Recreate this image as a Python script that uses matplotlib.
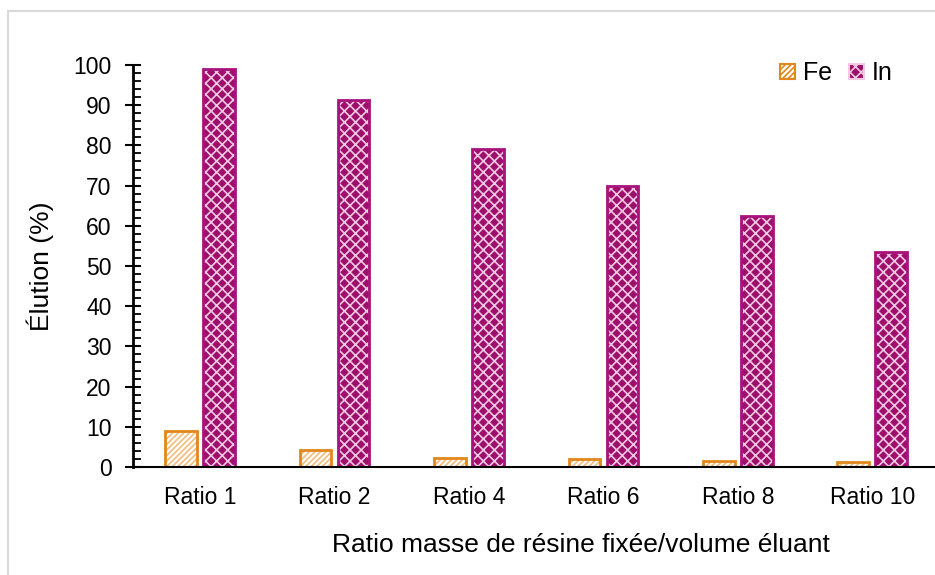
import numpy as np
import matplotlib.pyplot as plt
from matplotlib.patches import Patch, Rectangle
from matplotlib.ticker import MultipleLocator

# elution yields per mass/volume ratio
categories = ['Ratio 1', 'Ratio 2', 'Ratio 4', 'Ratio 6', 'Ratio 8', 'Ratio 10']
fe_values = [9.0, 4.3, 2.2, 2.0, 1.4, 1.2]
in_values = [98.9, 91.3, 79.2, 70.0, 62.5, 53.4]

plt.rcParams['font.family'] = ['Liberation Sans', 'DejaVu Sans']
plt.rcParams['hatch.linewidth'] = 1.2

fe_edge = '#E2871C'
fe_hatch = '#F3BC7C'
in_face = '#9E0F6C'
in_edge = '#A8127A'
in_hatch = '#F0C8E2'

fig = plt.figure(figsize=(9.35, 5.75), dpi=100)
ax = fig.add_axes([0.1422, 0.1878, 0.8625, 0.6992])

x = np.arange(len(categories))
off = 0.141
w = 0.235

# hatch layer first, then the outline on top
ax.bar(x - off, fe_values, w, facecolor='white', edgecolor=fe_hatch, hatch='//////', linewidth=0)
ax.bar(x - off, fe_values, w, facecolor='none', edgecolor=fe_edge, linewidth=2)
ax.bar(x + off, in_values, w, facecolor=in_face, edgecolor=in_hatch, hatch='xxx', linewidth=0)
ax.bar(x + off, in_values, w, facecolor='none', edgecolor=in_edge, linewidth=2)

ax.set_xlim(-0.5, len(categories) - 0.5)
ax.set_ylim(0, 100)
ax.yaxis.set_major_locator(MultipleLocator(10))
ax.yaxis.set_minor_locator(MultipleLocator(2))
ax.tick_params(axis='y', which='major', direction='inout', length=11, width=1.5, labelsize=16.5, pad=10)
ax.tick_params(axis='y', which='minor', direction='in', length=6, width=1.3)
ax.tick_params(axis='x', length=0, labelsize=16.5, pad=14)
ax.set_xticks(x)
ax.set_xticklabels(categories)

for s in ['top', 'right']:
    ax.spines[s].set_visible(False)
ax.spines['left'].set_linewidth(2)
ax.spines['bottom'].set_linewidth(1.5)

ax.set_ylabel('Élution (%)', fontsize=19, labelpad=14)
ax.set_xlabel('Ratio masse de résine fixée/volume éluant', fontsize=19, labelpad=18)
ax.xaxis.set_label_coords(0.555, -0.165)

handles = [
    Patch(facecolor='white', edgecolor=fe_edge, hatch='//////', linewidth=1.5),
    Patch(facecolor=in_face, edgecolor=in_hatch, hatch='xxx', linewidth=1.5),
]
leg = ax.legend(handles, ['Fe', 'In'], loc='upper right', bbox_to_anchor=(0.97, 1.065), ncol=2,
                frameon=False, fontsize=18, handlelength=0.6, handleheight=0.6,
                handletextpad=0.3, columnspacing=0.7)

# light frame around the chart area
fig.patches.append(Rectangle((8 / 935, -0.05), 1.1, 1 - 11 / 575 + 0.05,
                             transform=fig.transFigure, fill=False,
                             edgecolor='#D9D9D9', linewidth=1.5))

fig.savefig('out.png', dpi=100)
